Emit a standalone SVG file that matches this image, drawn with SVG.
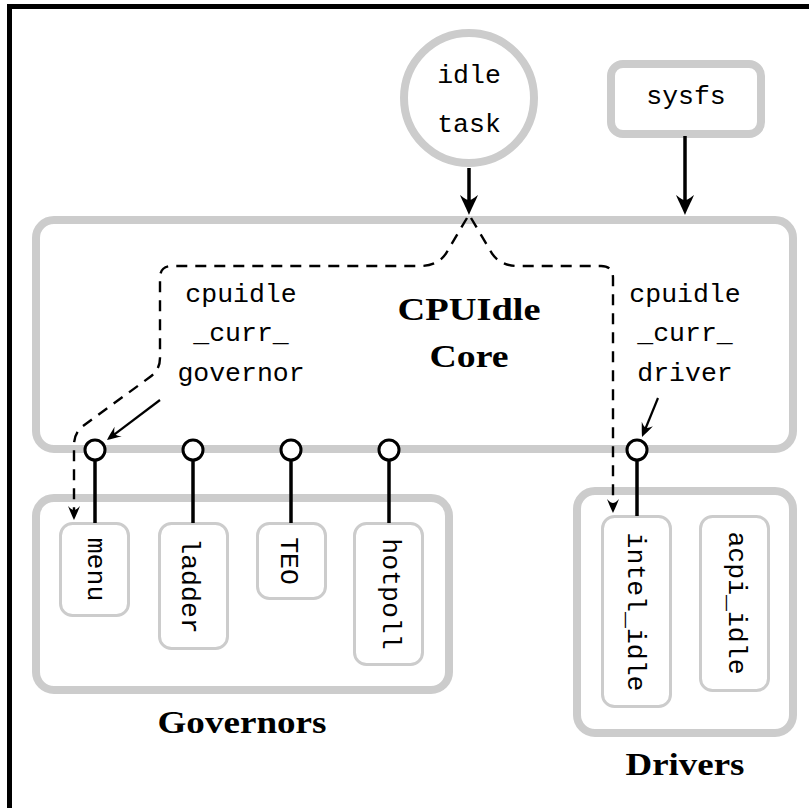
<svg xmlns="http://www.w3.org/2000/svg" width="809" height="808" viewBox="0 0 809 808">
<style>
.frame{fill:none;stroke:#000;stroke-width:5}
.big{fill:none;stroke:#cccccc;stroke-width:8}
.small{fill:#fff;stroke:#cccccc;stroke-width:3}
.mono{font-family:"Liberation Mono","DejaVu Sans Mono",monospace;font-size:26.5px;fill:#000}
.bold{font-family:"Liberation Serif","DejaVu Serif",serif;font-weight:bold;font-size:31px;fill:#000}
.solid{fill:none;stroke:#000;stroke-width:3.5}
.thin{fill:none;stroke:#000;stroke-width:2.2}
.dash{fill:none;stroke:#000;stroke-width:2.4;stroke-dasharray:11 8}
.port{fill:#fff;stroke:#000;stroke-width:3}
</style>
<defs>
<marker id="ah" markerUnits="userSpaceOnUse" markerWidth="26" markerHeight="22" viewBox="-22 -11 26 22" refX="-8" refY="0" orient="auto">
<path d="M0,0 C-5,-2 -13,-6 -20,-9 C-16,-4 -15,-2 -15,0 C-15,2 -16,4 -20,9 C-13,6 -5,2 0,0Z" fill="#000"/>
</marker>
<marker id="ahs" markerUnits="userSpaceOnUse" markerWidth="18" markerHeight="16" viewBox="-16 -8 18 16" refX="-6" refY="0" orient="auto">
<path d="M0,0 C-4,-2 -9,-4 -14,-6 C-11,-3 -10,-1.5 -10,0 C-10,1.5 -11,3 -14,6 C-9,4 -4,2 0,0Z" fill="#000"/>
</marker>
</defs>
<rect width="809" height="808" fill="#fff"/>
<path class="frame" d="M9.5,808 V6.5 H809"/>

<g id="core">
<rect class="big" x="36" y="220" width="757" height="229" rx="18"/>
<text class="bold" x="469" y="320" text-anchor="middle" textLength="143" lengthAdjust="spacingAndGlyphs">CPUIdle</text>
<text class="bold" x="469" y="367" text-anchor="middle" textLength="79" lengthAdjust="spacingAndGlyphs">Core</text>
<text class="mono" x="241" y="302" text-anchor="middle">cpuidle</text>
<text class="mono" x="241" y="341" text-anchor="middle">_curr_</text>
<text class="mono" x="241" y="381" text-anchor="middle">governor</text>
<text class="mono" x="685" y="302" text-anchor="middle">cpuidle</text>
<text class="mono" x="685" y="341" text-anchor="middle">_curr_</text>
<text class="mono" x="685" y="381" text-anchor="middle">driver</text>
</g>

<g id="idle-task">
<circle cx="469" cy="98" r="65" fill="#fff" stroke="#cccccc" stroke-width="8"/>
<text class="mono" x="469" y="83" text-anchor="middle">idle</text>
<text class="mono" x="469" y="132" text-anchor="middle">task</text>
</g>

<g id="sysfs">
<rect class="big" x="611" y="64" width="150" height="70" rx="12" fill="#fff"/>
<text class="mono" x="686" y="104" text-anchor="middle">sysfs</text>
</g>

<g id="governors">
<rect class="big" x="36" y="498" width="413" height="192" rx="18"/>
<text class="bold" x="242" y="733" text-anchor="middle" textLength="169" lengthAdjust="spacingAndGlyphs">Governors</text>
</g>
<g id="menu">
<rect class="small" x="60.5" y="523.5" width="68" height="92" rx="12"/>
<text class="mono" transform="translate(88,569.5) rotate(90)" text-anchor="middle">menu</text>
</g>
<g id="ladder">
<rect class="small" x="159.5" y="523.5" width="68" height="125" rx="12"/>
<text class="mono" transform="translate(182,586) rotate(90)" text-anchor="middle">ladder</text>
</g>
<g id="teo">
<rect class="small" x="257.5" y="523.5" width="68" height="75" rx="12"/>
<text class="mono" transform="translate(281,561) rotate(90)" text-anchor="middle">TEO</text>
</g>
<g id="hotpoll">
<rect class="small" x="354.5" y="523.5" width="68" height="141" rx="12"/>
<text class="mono" transform="translate(383,594) rotate(90)" text-anchor="middle">hotpoll</text>
</g>

<g id="drivers">
<rect class="big" x="577" y="491" width="216" height="242" rx="18"/>
<text class="bold" x="685" y="775" text-anchor="middle" textLength="119" lengthAdjust="spacingAndGlyphs">Drivers</text>
</g>
<g id="intel_idle">
<rect class="small" x="602.5" y="516.5" width="68" height="190" rx="12"/>
<text class="mono" transform="translate(628,612) rotate(90)" text-anchor="middle">intel_idle</text>
</g>
<g id="acpi_idle">
<rect class="small" x="700.5" y="516.5" width="68" height="174" rx="12"/>
<text class="mono" transform="translate(729,603) rotate(90)" text-anchor="middle">acpi_idle</text>
</g>

<g id="connectors">
<line class="solid" x1="469" y1="168" x2="469" y2="207" marker-end="url(#ah)"/>
<line class="solid" x1="685" y1="136" x2="685" y2="207" marker-end="url(#ah)"/>
<path class="dash" d="M467,218 L448,250 Q440,266 420,266 L172,266 Q160,266 160,278 L160,358 Q160,370 150,377 L83,426 Q74,433 74,445 L74,514" marker-end="url(#ahs)"/>
<path class="dash" d="M471,218 L490,250 Q498,266 518,266 L601,266 Q613,266 613,278 L613,507" marker-end="url(#ahs)"/>
<line class="thin" x1="160" y1="400" x2="111.8" y2="436.4" marker-end="url(#ahs)"/>
<line class="thin" x1="658" y1="398" x2="644.3" y2="431.5" marker-end="url(#ahs)"/>
<line class="solid" x1="95" y1="460" x2="95" y2="523"/>
<line class="solid" x1="193" y1="460" x2="193" y2="523"/>
<line class="solid" x1="291" y1="460" x2="291" y2="523"/>
<line class="solid" x1="389" y1="460" x2="389" y2="523"/>
<line class="solid" x1="637" y1="460" x2="637" y2="516"/>
<circle class="port" cx="95" cy="450" r="10"/>
<circle class="port" cx="193" cy="450" r="10"/>
<circle class="port" cx="291" cy="450" r="10"/>
<circle class="port" cx="389" cy="450" r="10"/>
<circle class="port" cx="637" cy="450" r="10"/>
</g>
</svg>
